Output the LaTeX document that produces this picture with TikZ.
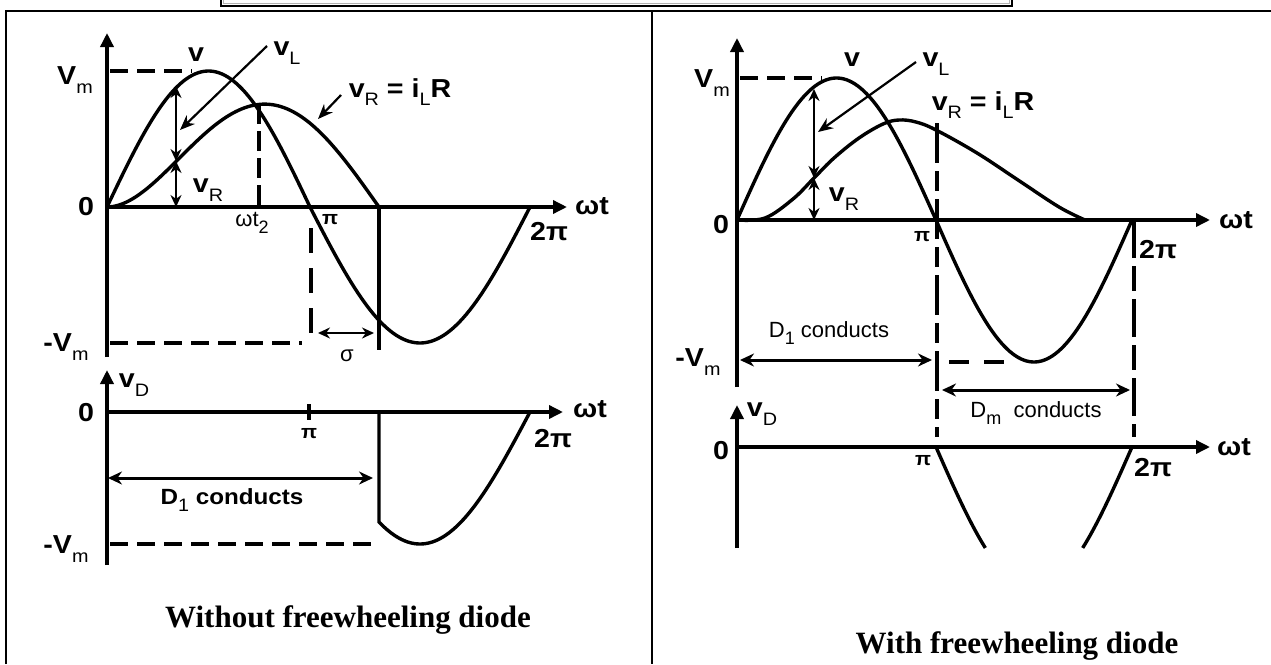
\documentclass[tikz,border=0pt]{standalone}
\usepackage{fontspec}
\setmainfont{Liberation Serif}
\setsansfont[FakeStretch=1.1]{Liberation Sans}
\newfontfamily\reglab{Liberation Sans}
\usetikzlibrary{arrows.meta}
\newcommand\lsub[1]{\raisebox{-0.32em}{\fontsize{18}{18}\selectfont\mdseries #1}}
\begin{document}
\begin{tikzpicture}[x=1pt,y=-1pt,
  frame/.style={line width=2.2pt},
  curve/.style={line width=3.4pt},
  axis/.style={line width=3.4pt,-{Triangle[length=14pt,width=13pt]}},
  dashln/.style={line width=3.4pt,dash pattern=on 18pt off 9pt},
  dimarr/.style={line width=3pt,{Stealth[length=14pt,width=13pt]}-{Stealth[length=14pt,width=13pt]}},
  smarr/.style={line width=2.8pt,{Stealth[length=12pt,width=11pt]}-{Stealth[length=12pt,width=11pt]}},
  ptr/.style={line width=2.2pt,-{Stealth[length=15pt,width=12pt]}},
  lab/.style={font=\sffamily\bfseries\fontsize{26}{26}\selectfont,inner sep=0pt},
  small/.style={font=\sffamily\bfseries\fontsize{19}{19}\selectfont,inner sep=0pt},
  rlab/.style={font=\reglab\fontsize{22}{22}\selectfont,inner sep=0pt},
  title/.style={font=\bfseries\fontsize{31}{31}\selectfont,inner sep=0pt,anchor=base}]
\useasboundingbox (0,0) rectangle (1271,664);
\fill[white] (0,0) rectangle (1271,664);

% frames
\draw[frame] (6,664) -- (6,11) -- (1271,11);
\draw[frame] (652,11) -- (652,664);
\draw[line width=1.8pt] (221,0) -- (221,6) -- (1012,6) -- (1012,0);
\draw[gray!60,line width=1pt] (223.5,0) -- (223.5,3.5) -- (1009.5,3.5) -- (1009.5,0);

% ===================== LEFT TOP =====================
\coordinate (LO) at (107,207);
\coordinate (LYb) at (107,357);
\coordinate (LYt) at (107,33);
\coordinate (LXe) at (567,207);
\draw[axis] (LYb) -- (LYt);
\draw[axis] (LO) -- (LXe);
% v
\draw[curve] plot[domain=0:180,samples=70] ({107+\x/180*203},{207-136*sin(\x)})
  -- plot[domain=0:180,samples=70] ({310+\x/180*220},{207+136*sin(\x)});
% vR
\draw[curve] plot[domain=0:3.941,samples=90] ({107+\x/3.941*272},{207-96.2*(sin((\x-0.7854) r)+0.7071*exp(-\x))});
% dashed lines
\coordinate (LVm1) at (110,71); \coordinate (LVm2) at (192,71);
\draw[dashln] (LVm1) -- (LVm2);
\coordinate (LnVm1) at (110,343); \coordinate (LnVm2) at (302,343);
\draw[dashln] (LnVm1) -- (LnVm2);
\coordinate (Lt2a) at (259,104); \coordinate (Lt2b) at (259,207);
\draw[line width=3.2pt,dash pattern=on 20pt off 7pt] (Lt2a) -- (Lt2b);
\coordinate (Lpia) at (311,228); \coordinate (Lpib) at (311,345);
\draw[line width=3.2pt,dash pattern=on 25pt off 15pt] (Lpia) -- (Lpib);
\coordinate (Lba) at (379,207); \coordinate (Lbb) at (379,350);
\draw[curve] (Lba) -- (Lbb);
% sigma arrow
\coordinate (Lsa) at (318,333); \coordinate (Lsb) at (374,333);
\draw[smarr] (Lsa) -- (Lsb);
% vL and vR marks
\coordinate (Lm1) at (176,86); \coordinate (Lm2) at (176,161); \coordinate (Lm3) at (176,207);
\draw[smarr] (Lm1) -- (Lm2);
\draw[smarr] (Lm2) -- (Lm3);
% labels
\node[lab] (LlVm) at (75,80) {V\lsub{m}};
\node[lab] (Ll0) at (86,207) {0};
\node[lab] (LlnVm) at (66,347) {-V\lsub{m}};
\node[lab] (Llv) at (196,55) {v};
\node[lab] (LlvL) at (287,53) {v\lsub{L}};
\node[lab] (LlvRi) at (400,92) {v\lsub{R} = i\lsub{L}R};
\node[lab] (LlvR) at (208,190) {v\lsub{R}};
\node[rlab] (Llwt2) at (252,223) {ωt\lsub{2}};
\node[small] (Llpi) at (330,220) {π};
\node[lab] (Ll2pi) at (549,232) {2π};
\node[lab] (Llwt) at (592,206) {ωt};
\node[rlab] (Llsig) at (347,356) {σ};
\coordinate (LpL1) at (267,46); \coordinate (LpL2) at (180,130);
\draw[ptr] (LpL1) -- (LpL2);
\coordinate (LpR1) at (341,95); \coordinate (LpR2) at (318,119);
\draw[ptr] (LpR1) -- (LpR2);

% ===================== LEFT BOTTOM =====================
\coordinate (LBO) at (107,412);
\coordinate (LBYb) at (107,565);
\coordinate (LBYt) at (107,370);
\coordinate (LBXe) at (563,412);
\draw[axis] (LBYb) -- (LBYt);
\draw[axis] (LBO) -- (LBXe);
\coordinate (LBt1) at (309,404); \coordinate (LBt2) at (309,420);
\draw[curve] (LBt1) -- (LBt2);
\coordinate (LBb1) at (379,412); \coordinate (LBb2) at (379,522);
\draw[curve] (LBb1) -- (LBb2)
  -- plot[domain=56.5:180,samples=60] ({310+\x/180*220},{412+132*sin(\x)});
\coordinate (LBn1) at (110,544); \coordinate (LBn2) at (376,544);
\draw[dashln] (LBn1) -- (LBn2);
\coordinate (LBd1) at (108,478); \coordinate (LBd2) at (373,478);
\draw[dimarr] (LBd1) -- (LBd2);
\node[lab] (LBlvD) at (134,385) {v\lsub{D}};
\node[lab] (LBl0) at (86,413) {0};
\node[small] (LBlpi) at (309,434) {π};
\node[lab] (LBl2pi) at (553,439) {2π};
\node[lab] (LBlwt) at (590,409) {ωt};
\node[lab] (LBlnVm) at (66,549) {-V\lsub{m}};
\node[font=\sffamily\bfseries\fontsize{22}{22}\selectfont,inner sep=0pt] (LBlD1) at (232,500) {D\lsub{1} conducts};
\node[title] (LTitle) at (348,627) {Without freewheeling diode};

% ===================== RIGHT TOP =====================
\coordinate (RO) at (737,220);
\coordinate (RYb) at (737,387);
\coordinate (RYt) at (737,38);
\coordinate (RXe) at (1210,220);
\draw[axis] (RYb) -- (RYt);
\draw[axis] (RO) -- (RXe);
\draw[curve] plot[domain=0:180,samples=70] ({737+\x/180*199},{220-142*sin(\x)})
  -- plot[domain=0:180,samples=70] ({936+\x/180*196},{220+142*sin(\x)});
\draw[curve] plot[smooth,tension=0.6] coordinates {(737,220) (765,218) (793,199) (814,178) (834,158) (859,138) (883,124) (899,120) (916,122) (936,130) (977,153) (1018,180) (1059,207) (1085,220)};
\coordinate (RVm1) at (740,78); \coordinate (RVm2) at (822,78);
\draw[dashln] (RVm1) -- (RVm2);
\coordinate (RnVm1) at (949,362); \coordinate (RnVm2) at (1012,362);
\draw[line width=3.4pt,dash pattern=on 20pt off 15pt] (RnVm1) -- (RnVm2);
\coordinate (Rpia) at (937,123); \coordinate (Rpib) at (937,437);
\draw[line width=3.2pt,dash pattern=on 40pt off 8pt on 20pt off 8pt] (Rpia) -- (Rpib);
\coordinate (R2pia) at (1134,220); \coordinate (R2pib) at (1134,437);
\draw[line width=3.2pt,dash pattern=on 38pt off 8pt on 25pt off 8pt] (R2pia) -- (R2pib);
\coordinate (Rm1) at (814,89); \coordinate (Rm2) at (814,178); \coordinate (Rm3) at (814,220);
\draw[smarr] (Rm1) -- (Rm2);
\draw[smarr] (Rm2) -- (Rm3);
\coordinate (RD1a) at (740,360); \coordinate (RD1b) at (932,360);
\draw[dimarr] (RD1a) -- (RD1b);
\coordinate (RDma) at (942,390); \coordinate (RDmb) at (1130,390);
\draw[dimarr] (RDma) -- (RDmb);
\node[lab] (RlVm) at (712,83) {V\lsub{m}};
\node[lab] (Rl0) at (721,225) {0};
\node[lab] (Rlv) at (852,60) {v};
\node[lab] (RlvL) at (936,64) {v\lsub{L}};
\node[lab] (RlvRi) at (983,105) {v\lsub{R} = i\lsub{L}R};
\node[lab] (RlvR) at (844,199) {v\lsub{R}};
\node[small] (Rlpi) at (922,237) {π};
\node[lab] (Rl2pi) at (1158,250) {2π};
\node[lab] (Rlwt) at (1236,220) {ωt};
\node[lab] (RlnVm) at (698,362) {-V\lsub{m}};
\node[rlab] (RlD1) at (829,333) {D\lsub{1} conducts};
\node[rlab] (RlDm) at (1036,413) {D\lsub{m} \ conducts};
\coordinate (RpL1) at (916,62); \coordinate (RpL2) at (818,132);
\draw[ptr] (RpL1) -- (RpL2);

% ===================== RIGHT BOTTOM =====================
\coordinate (RBO) at (737,447);
\coordinate (RBYb) at (737,548);
\coordinate (RBYt) at (737,405);
\coordinate (RBXe) at (1210,447);
\draw[axis] (RBYb) -- (RBYt);
\draw[axis] (RBO) -- (RBXe);
\draw[curve] plot[domain=0:45.3,samples=30] ({936+\x/180*196},{447+142*sin(\x)});
\draw[curve] plot[domain=134.7:180,samples=30] ({936+\x/180*196},{447+142*sin(\x)});
\node[lab] (RBlvD) at (762,414) {v\lsub{D}};
\node[lab] (RBl0) at (721,451) {0};
\node[small] (RBlpi) at (923,461) {π};
\node[lab] (RBl2pi) at (1153,468) {2π};
\node[lab] (RBlwt) at (1234,447) {ωt};
\node[title] (RTitle) at (1017,653) {With freewheeling diode};
\end{tikzpicture}
\end{document}
